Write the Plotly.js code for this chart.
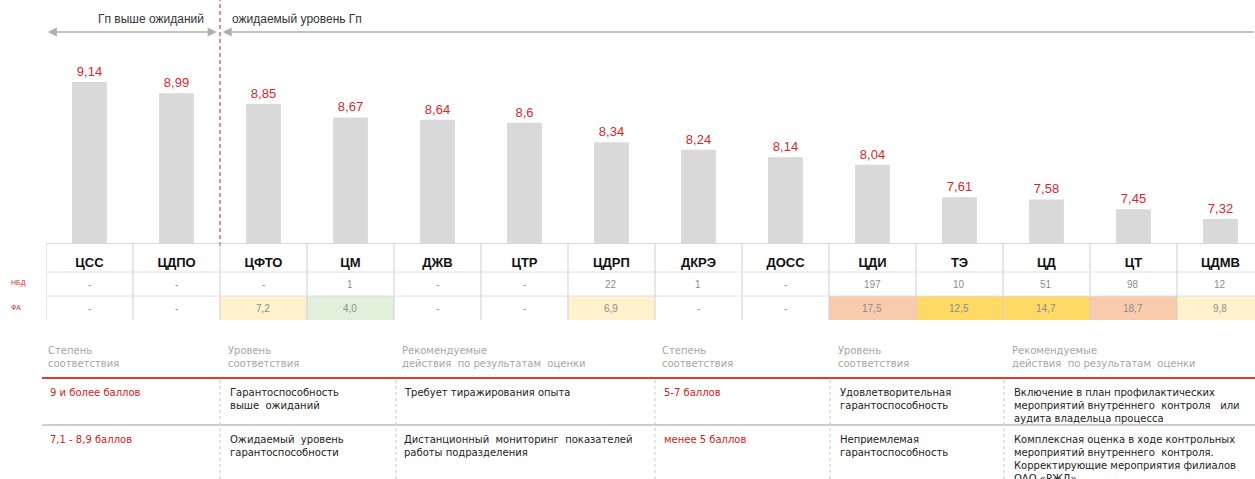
<!DOCTYPE html>
<html>
<head>
<meta charset="utf-8">
<script src="https://cdn.plot.ly/plotly-3.0.1.min.js"></script>
<style>
html,body{margin:0;padding:0;background:#fff;}
#chart{width:1255px;height:479px;}
</style>
</head>
<body>
<div id="chart"></div>
<script>
// ---------- DATA ----------
const categories = ['ЦСС','ЦДПО','ЦФТО','ЦМ','ДЖВ','ЦТР','ЦДРП','ДКРЭ','ДОСС','ЦДИ','ТЭ','ЦД','ЦТ','ЦДМВ'];
const scores = [9.14, 8.99, 8.85, 8.67, 8.64, 8.6, 8.34, 8.24, 8.14, 8.04, 7.61, 7.58, 7.45, 7.32];
const nbdValues = [null, null, null, 1, null, null, 22, 1, null, 197, 10, 51, 98, 12];
const faValues = [null, null, 7.2, 4.0, null, null, 6.9, null, null, 17.5, 12.5, 14.7, 18.7, 9.8];
const rowLabels = ['НБД', 'ФА'];
const zoneLabels = ['Гп выше ожиданий', 'ожидаемый уровень Гп'];
const legendHeaders = ['Степень<br>соответствия', 'Уровень<br>соответствия', 'Рекомендуемые<br>действия  по результатам  оценки',
                       'Степень<br>соответствия', 'Уровень<br>соответствия', 'Рекомендуемые<br>действия  по результатам  оценки'];
const legendRow1 = ['9 и более баллов', 'Гарантоспособность<br>выше  ожиданий', 'Требует тиражирования опыта',
                    '5-7 баллов', 'Удовлетворительная<br>гарантоспособность',
                    'Включение в план профилактических<br>мероприятий внутреннего  контроля   или<br>аудита владельца процесса'];
const legendRow2 = ['7,1 - 8,9 баллов', 'Ожидаемый  уровень<br>гарантоспособности', 'Дистанционный  мониторинг  показателей<br>работы подразделения',
                    'менее 5 баллов', 'Неприемлемая<br>гарантоспособность',
                    'Комплексная оценка в ходе контрольных<br>мероприятий внутреннего  контроля.<br>Корректирующие мероприятия филиалов<br>ОАО «РЖД»'];
const redColumns = [0, 3];

// ---------- LAYOUT HELPERS ----------
const W = 1255, H = 479;
const ML = 46, MT = 60, BASE = 243;
const PH = BASE - MT;
const py = p => (BASE - p) / PH;          // pixel y -> paper y
const px = p => (p - ML) / (W - ML);      // pixel x -> paper x
const fmt = (v, d) => v === null ? '-' : (d === undefined ? String(v) : v.toFixed(d)).replace('.', ',');
const faColor = v => v === null ? null : (v < 5 ? '#E2EFDA' : v < 10 ? '#FFF2CC' : v < 15 ? '#FFD966' : '#F8CBAD');

const RED = '#D9262B';
const FONT = 'Liberation Sans, Arial, sans-serif';
const shapes = [];
const annotations = [];

// split line between zones
shapes.push({type:'line', xref:'x', yref:'paper', x0:1.5, x1:1.5, y0:py(246), y1:py(0),
  line:{color:'#E52B2B', width:1.1, dash:'4px,3px'}});

// zone arrows
annotations.push({xref:'x', yref:'paper', x:-0.48, y:py(32), axref:'x', ayref:'pixel', ax:1.48, ay:0,
  showarrow:true, arrowside:'start+end', arrowhead:2, arrowsize:1.3, arrowwidth:1.4, arrowcolor:'#AEAEAE', text:''});
annotations.push({xref:'x', yref:'paper', x:1.53, y:py(32), axref:'x', ayref:'pixel', ax:13.4, ay:0,
  showarrow:true, arrowside:'end', arrowhead:2, arrowsize:1.3, arrowwidth:1.4, arrowcolor:'#AEAEAE', text:''});
annotations.push({xref:'x', yref:'paper', x:1.34, y:py(19), xanchor:'right', yanchor:'middle', showarrow:false,
  text:zoneLabels[0], font:{family:FONT, size:12, color:'#333'}});
annotations.push({xref:'x', yref:'paper', x:1.615, y:py(19), xanchor:'left', yanchor:'middle', showarrow:false,
  text:zoneLabels[1], font:{family:FONT, size:12, color:'#333'}});

// table under chart: fills, grid, values
faValues.forEach((v, i) => {
  const c = faColor(v);
  if (c) shapes.push({type:'rect', xref:'x', yref:'paper', x0:i-0.5, x1:i+0.5, y0:py(320), y1:py(296),
    fillcolor:c, line:{width:0}, layer:'below'});
});
for (let b = 0; b < categories.length; b++) {
  shapes.push({type:'line', xref:'x', yref:'paper', x0:b-0.5, x1:b-0.5, y0:py(320), y1:py(243),
    line:{color:'#CFCFCF', width:1}});
}
[272, 296].forEach(yy => shapes.push({type:'line', xref:'paper', yref:'paper', x0:0, x1:1, y0:py(yy), y1:py(yy),
  line:{color:'#E0E0E0', width:1}}));

categories.forEach((c, i) => {
  annotations.push({xref:'x', yref:'paper', x:i, y:py(284), yanchor:'middle', showarrow:false, text:fmt(nbdValues[i]),
    font:{family:FONT, size:10, color:'#8C8C8C'}});
  annotations.push({xref:'x', yref:'paper', x:i, y:py(308), yanchor:'middle', showarrow:false, text:fmt(faValues[i], 1),
    font:{family:FONT, size:10, color:'#8C8C8C'}});
});
rowLabels.forEach((t, k) => annotations.push({xref:'paper', yref:'paper', x:px(9), y:py(k ? 307 : 283),
  xanchor:'left', yanchor:'middle', showarrow:false, text:t, font:{family:FONT, size:7, color:RED}}));

// legend table
const colX = [46, 226, 400, 660, 836, 1010];
const colTextX = [48, 228, 402, 662, 838, 1012];
shapes.push({type:'line', xref:'paper', yref:'paper', x0:px(42), x1:1, y0:py(378), y1:py(378), line:{color:'#E03A3A', width:2}});
shapes.push({type:'line', xref:'paper', yref:'paper', x0:px(42), x1:1, y0:py(425), y1:py(425), line:{color:'#BDBDBD', width:1.5}});
[220, 396, 655, 830, 1004].forEach(xx => shapes.push({type:'line', xref:'paper', yref:'paper', x0:px(xx), x1:px(xx),
  y0:py(380), y1:py(479), line:{color:'#C8C8C8', width:1, dash:'dot'}}));
const LF = 'DejaVu Sans, Verdana, sans-serif';
legendHeaders.forEach((t, k) => annotations.push({xref:'paper', yref:'paper', x:px(colX[k]), y:py(343),
  xanchor:'left', yanchor:'top', align:'left', showarrow:false, text:t, font:{family:LF, size:10, color:'#A6A6A6'}}));
[legendRow1, legendRow2].forEach((row, r) => row.forEach((t, k) => annotations.push({xref:'paper', yref:'paper',
  x:px(colTextX[k]), y:py(r ? 432 : 385), xanchor:'left', yanchor:'top', align:'left', showarrow:false, text:t,
  font:{family:LF, size:10, color: redColumns.includes(k) ? '#D42020' : '#222'}})));

// ---------- TRACE ----------
const trace = {
  type:'bar', x:categories, y:scores, width:0.4,
  marker:{color:'#D9D9D9', line:{width:0}},
  text:scores.map(v => fmt(v)), textposition:'outside', cliponaxis:false,
  textfont:{family:FONT, size:13, color:RED},
  hoverinfo:'x+y'
};

const layout = {
  width:W, height:H, margin:{l:ML, r:0, t:MT, b:H-BASE, pad:0},
  paper_bgcolor:'#fff', plot_bgcolor:'#fff', showlegend:false,
  xaxis:{type:'category', range:[-0.5, 13.397], showgrid:false, zeroline:false, showline:true, linecolor:'#D9D9D9',
    ticks:'', ticklabelstandoff:7, tickfont:{family:FONT, size:13, color:'#111', weight:'bold'},
    fixedrange:true},
  yaxis:{range:[7.0, 7.0 + PH/75.2], visible:false, fixedrange:true},
  shapes:shapes, annotations:annotations
};

Plotly.newPlot('chart', [trace], layout, {displayModeBar:false, staticPlot:true});
</script>
</body>
</html>
